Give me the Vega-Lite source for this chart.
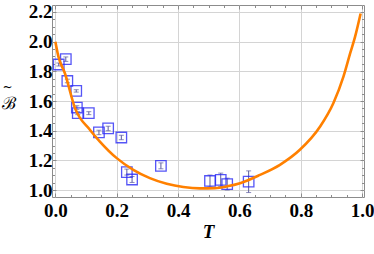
{
  "$schema": "https://vega.github.io/schema/vega-lite/v6.json",
  "width": 312,
  "height": 192,
  "autosize": {"type": "none"},
  "padding": {"left": 52, "top": 5, "right": 10, "bottom": 57},
  "background": "white",
  "config": {
    "view": {"stroke": "#8c8c8c", "strokeWidth": 1},
    "axis": {
      "domain": false,
      "tickColor": "#8c8c8c",
      "labelFont": "Liberation Serif, serif",
      "labelFontWeight": "bold",
      "labelFontSize": 19,
      "labelColor": "black",
      "gridColor": "#d4d4d4",
      "gridWidth": 1
    }
  },
  "datasets": {
    "pts": [
      {"T": 0.011, "B": 1.846, "lo": 1.836, "hi": 1.856},
      {"T": 0.034, "B": 1.882, "lo": 1.867, "hi": 1.897},
      {"T": 0.039, "B": 1.735, "lo": 1.723, "hi": 1.747},
      {"T": 0.068, "B": 1.668, "lo": 1.660, "hi": 1.676},
      {"T": 0.070, "B": 1.556, "lo": 1.544, "hi": 1.568},
      {"T": 0.073, "B": 1.518, "lo": 1.508, "hi": 1.528},
      {"T": 0.109, "B": 1.518, "lo": 1.508, "hi": 1.528},
      {"T": 0.142, "B": 1.388, "lo": 1.373, "hi": 1.403},
      {"T": 0.172, "B": 1.415, "lo": 1.400, "hi": 1.430},
      {"T": 0.215, "B": 1.354, "lo": 1.339, "hi": 1.369},
      {"T": 0.233, "B": 1.121, "lo": 1.101, "hi": 1.141},
      {"T": 0.250, "B": 1.071, "lo": 1.051, "hi": 1.091},
      {"T": 0.344, "B": 1.163, "lo": 1.143, "hi": 1.183},
      {"T": 0.504, "B": 1.061, "lo": 1.021, "hi": 1.101},
      {"T": 0.539, "B": 1.069, "lo": 1.024, "hi": 1.114},
      {"T": 0.560, "B": 1.040, "lo": 1.000, "hi": 1.080},
      {"T": 0.630, "B": 1.056, "lo": 0.983, "hi": 1.129}
    ],
    "curve": [
      {"T": 0.0, "B": 2.0},
      {"T": 0.010, "B": 1.899},
      {"T": 0.031, "B": 1.787},
      {"T": 0.064, "B": 1.552},
      {"T": 0.113, "B": 1.405},
      {"T": 0.145, "B": 1.327},
      {"T": 0.200, "B": 1.215},
      {"T": 0.254, "B": 1.136},
      {"T": 0.308, "B": 1.080},
      {"T": 0.363, "B": 1.042},
      {"T": 0.417, "B": 1.020},
      {"T": 0.471, "B": 1.011},
      {"T": 0.520, "B": 1.013},
      {"T": 0.560, "B": 1.025},
      {"T": 0.602, "B": 1.046},
      {"T": 0.667, "B": 1.102},
      {"T": 0.732, "B": 1.170},
      {"T": 0.797, "B": 1.271},
      {"T": 0.863, "B": 1.428},
      {"T": 0.906, "B": 1.585},
      {"T": 0.939, "B": 1.764},
      {"T": 0.961, "B": 1.922},
      {"T": 0.977, "B": 2.034},
      {"T": 0.995, "B": 2.19}
    ]
  },
  "resolve": {"axis": {"x": "independent", "y": "independent"}},
  "layer": [
    {
      "data": {"name": "curve"},
      "mark": {"type": "point", "opacity": 0},
      "encoding": {
        "x": {"field": "T", "type": "quantitative",
          "scale": {"domain": [-0.011, 1.006], "nice": false, "zero": false},
          "axis": {"orient": "bottom", "values": [0, 0.2, 0.4, 0.6, 0.8, 1.0], "format": ".1f",
            "grid": true, "tickSize": -4, "labelPadding": 8,
            "labelFont": "Liberation Serif, serif", "labelFontWeight": "bold", "labelFontSize": 19,
            "title": "T", "titleFont": "Liberation Serif", "titleFontStyle": "italic",
            "titleFontWeight": "bold", "titleFontSize": 19, "titlePadding": 2}},
        "y": {"field": "B", "type": "quantitative",
          "scale": {"domain": [0.953, 2.247], "nice": false, "zero": false},
          "axis": {"orient": "left", "values": [1.0, 1.2, 1.4, 1.6, 1.8, 2.0, 2.2], "format": ".1f",
            "grid": true, "tickSize": -4, "labelPadding": 4,
            "labelFont": "Liberation Serif, serif", "labelFontWeight": "bold", "labelFontSize": 19,
            "title": "ℬ", "titleFont": "DejaVu Serif", "titleFontWeight": "normal",
            "titleFontSize": 17, "titleAngle": 0, "titleAlign": "center", "titleBaseline": "middle",
            "titleX": -44, "titleY": 98}}
      }
    },
    {
      "data": {"name": "curve"},
      "mark": {"type": "point", "opacity": 0},
      "encoding": {
        "x": {"field": "T", "type": "quantitative",
          "axis": {"orient": "bottom", "values": [0.05, 0.1, 0.15, 0.25, 0.3, 0.35, 0.45, 0.5, 0.55, 0.65, 0.7, 0.75, 0.85, 0.9, 0.95],
            "grid": false, "labels": false, "tickSize": -2.5, "title": null}},
        "y": {"field": "B", "type": "quantitative",
          "axis": {"orient": "left", "values": [1.05, 1.1, 1.15, 1.25, 1.3, 1.35, 1.45, 1.5, 1.55, 1.65, 1.7, 1.75, 1.85, 1.9, 1.95, 2.05, 2.1, 2.15],
            "grid": false, "labels": false, "tickSize": -2.5,
            "title": "~", "titleFont": "DejaVu Serif", "titleFontWeight": "normal",
            "titleFontSize": 12, "titleAngle": 0, "titleAlign": "center", "titleBaseline": "middle",
            "titleX": -45, "titleY": 81}}
      }
    },
    {
      "data": {"name": "curve"},
      "mark": {"type": "point", "opacity": 0},
      "encoding": {
        "x": {"field": "T", "type": "quantitative",
          "axis": {"orient": "top", "values": [0, 0.2, 0.4, 0.6, 0.8, 1.0],
            "grid": false, "labels": false, "tickSize": -4, "title": null}},
        "y": {"field": "B", "type": "quantitative",
          "axis": {"orient": "right", "values": [1.0, 1.2, 1.4, 1.6, 1.8, 2.0, 2.2],
            "grid": false, "labels": false, "tickSize": -4, "title": null}}
      }
    },
    {
      "data": {"name": "curve"},
      "mark": {"type": "point", "opacity": 0},
      "encoding": {
        "x": {"field": "T", "type": "quantitative",
          "axis": {"orient": "top", "values": [0.05, 0.1, 0.15, 0.25, 0.3, 0.35, 0.45, 0.5, 0.55, 0.65, 0.7, 0.75, 0.85, 0.9, 0.95],
            "grid": false, "labels": false, "tickSize": -2.5, "title": null}},
        "y": {"field": "B", "type": "quantitative",
          "axis": {"orient": "right", "values": [1.05, 1.1, 1.15, 1.25, 1.3, 1.35, 1.45, 1.5, 1.55, 1.65, 1.7, 1.75, 1.85, 1.9, 1.95, 2.05, 2.1, 2.15],
            "grid": false, "labels": false, "tickSize": -2.5, "title": null}}
      }
    },
    {
      "mark": {"type": "rule", "color": "#808080", "strokeWidth": 3},
      "encoding": {"y": {"datum": 2.0, "type": "quantitative", "axis": null}}
    },
    {
      "data": {"name": "pts"},
      "mark": {"type": "errorbar", "ticks": {"size": 5}, "color": "#5a5a9e", "thickness": 1},
      "encoding": {
        "x": {"field": "T", "type": "quantitative", "axis": null},
        "y": {"field": "lo", "type": "quantitative", "axis": null},
        "y2": {"field": "hi"}
      }
    },
    {
      "data": {"name": "pts"},
      "mark": {"type": "point", "shape": "square", "filled": false, "size": 110, "stroke": "#2b2bf5", "strokeWidth": 1.3, "opacity": 0.8},
      "encoding": {
        "x": {"field": "T", "type": "quantitative", "axis": null},
        "y": {"field": "B", "type": "quantitative", "axis": null}
      }
    },
    {
      "data": {"name": "curve"},
      "mark": {"type": "line", "color": "#ff8000", "strokeWidth": 2.6, "interpolate": "monotone"},
      "encoding": {
        "x": {"field": "T", "type": "quantitative", "axis": null},
        "y": {"field": "B", "type": "quantitative", "axis": null}
      }
    }
  ]
}
